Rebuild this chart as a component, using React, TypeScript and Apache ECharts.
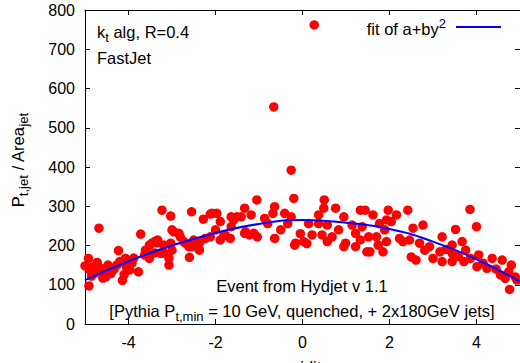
import React, { useEffect, useRef } from 'react';
import * as echarts from 'echarts';

const xTickValues = [-4, -2, 0, 2, 4];
const yMin = 0;
const yMax = 800;
const yInterval = 100;

const jetPoints: [number, number][] = [
  [-5.0, 148], [-4.92, 167], [-4.91, 97], [-4.89, 138], [-4.82, 146], [-4.78, 129],
  [-4.68, 244], [-4.68, 143], [-4.63, 142], [-4.59, 117], [-4.56, 130], [-4.47, 150],
  [-4.45, 143], [-4.4, 129], [-4.27, 150], [-4.23, 187], [-4.2, 159], [-4.14, 111],
  [-4.07, 167], [-4.05, 146], [-3.97, 138], [-3.92, 155], [-3.77, 133], [-3.72, 229],
  [-3.63, 176], [-3.61, 188], [-3.53, 176], [-3.52, 201], [-3.52, 167], [-3.46, 206],
  [-3.4, 210], [-3.4, 181], [-3.35, 207], [-3.33, 214], [-4.85, 122], [-4.72, 157],
  [-4.52, 120], [-4.33, 140], [-4.1, 126], [-3.88, 168],
  [-3.26, 180], [-3.23, 290], [-3.19, 181], [-3.19, 201], [-3.07, 167], [-3.07, 150],
  [-3.03, 275], [-3.03, 206], [-3.0, 240], [-3.0, 188], [-2.96, 235], [-2.84, 231],
  [-2.81, 222], [-2.73, 210], [-2.69, 206], [-2.61, 197], [-2.6, 170], [-2.55, 286],
  [-2.55, 197], [-2.5, 214], [-2.46, 210], [-2.39, 193], [-2.37, 188], [-2.35, 210],
  [-2.28, 267], [-2.23, 218], [-2.12, 280], [-2.12, 222], [-2.08, 282], [-2.0, 240],
  [-1.97, 282], [-1.89, 261], [-1.89, 214], [-1.81, 227], [-1.77, 226], [-1.66, 218],
  [-1.64, 273], [-1.64, 248], [-1.58, 265], [-1.51, 273], [-1.41, 273], [-1.33, 295],
  [-1.33, 231], [-1.31, 235], [-1.22, 227], [-1.18, 278], [-1.12, 231], [-1.05, 316],
  [-1.04, 222],
  [-0.87, 269], [-0.8, 256], [-0.68, 282], [-0.64, 299], [-0.64, 218], [-0.66, 553],
  [-0.5, 240], [-0.41, 282], [-0.34, 256], [-0.26, 273], [-0.26, 392], [-0.2, 320],
  [-0.18, 201], [-0.16, 206], [-0.05, 230], [0.03, 210], [0.1, 205], [0.14, 256],
  [0.22, 227], [0.27, 762], [0.37, 278], [0.37, 256], [0.5, 316], [0.49, 295],
  [0.45, 227], [0.57, 252], [0.57, 210], [0.68, 222], [0.76, 295], [0.83, 240],
  [0.95, 273], [0.95, 197], [0.99, 206],
  [1.14, 252], [1.22, 231], [1.22, 197], [1.33, 290], [1.33, 214], [1.37, 248],
  [1.44, 290], [1.48, 184], [1.52, 222], [1.55, 184], [1.62, 278], [1.7, 222],
  [1.74, 201], [1.77, 256], [1.85, 184], [1.89, 240], [1.93, 265], [1.93, 210],
  [1.97, 290], [2.04, 261], [2.16, 278], [2.23, 218], [2.31, 210], [2.42, 290],
  [2.46, 214], [2.5, 171], [2.54, 244], [2.61, 163], [2.69, 206], [2.77, 252],
  [2.81, 188], [2.92, 197],
  [3.0, 167], [3.16, 184], [3.21, 222], [3.21, 159], [3.44, 201], [3.44, 180],
  [3.44, 159], [3.52, 241], [3.67, 210], [3.71, 159], [3.75, 188], [3.85, 292],
  [3.86, 167], [4.0, 248], [4.01, 146], [4.05, 176], [4.24, 142], [4.36, 167],
  [4.55, 125], [4.59, 163], [4.66, 116], [4.74, 133], [4.76, 88], [4.89, 120],
  [4.93, 112], [3.3, 190], [3.58, 172], [4.15, 155], [4.45, 140], [4.8, 150],
];

const fitX = [-5, -4, -3, -2, -1, 0, 1, 2, 3, 4, 5];
const fitY = [112, 160, 200, 232, 255, 265, 258, 242, 210, 165, 108];

const FONT = "'Liberation Sans', Arial, Helvetica, sans-serif";

const rich = {
  m: { fontSize: 16.5, fontFamily: FONT, fill: '#000', color: '#000' },
  s: { fontSize: 13, fontFamily: FONT, fill: '#000', color: '#000', padding: [11, 0, 0, 0] },
  p: { fontSize: 13, fontFamily: FONT, fill: '#000', color: '#000', padding: [0, 0, 11, 0] },
};

function txt(x: number, y: number, text: string, align: string) {
  return {
    type: 'text',
    x,
    y,
    style: {
      text,
      rich,
      fontSize: 16.5,
      fontFamily: FONT,
      fill: '#000',
      align,
      textAlign: align,
      verticalAlign: 'middle',
      textVerticalAlign: 'middle',
    },
  };
}

export default function App() {
  const ref = useRef<HTMLDivElement>(null);
  useEffect(() => {
    if (!ref.current) return;
    const chart = echarts.init(ref.current, undefined, { renderer: 'svg' });
    const axisLine = { show: true, onZero: false, lineStyle: { color: '#000', width: 1 } };
    const tick = { show: true, inside: true, length: 5, lineStyle: { color: '#000', width: 1 } };
    chart.setOption({
      animation: false,
      backgroundColor: '#fff',
      grid: { left: 85, right: -1, top: 10, bottom: 39, containLabel: false },
      xAxis: [
        {
          type: 'value', min: -5, max: 5, position: 'bottom',
          axisLine, splitLine: { show: false },
          axisTick: { ...tick, customValues: xTickValues },
          axisLabel: { customValues: xTickValues, margin: 10, color: '#000', fontSize: 16, fontFamily: FONT },
        },
        {
          type: 'value', min: -5, max: 5, position: 'top',
          axisLine, splitLine: { show: false },
          axisTick: { ...tick, customValues: xTickValues },
          axisLabel: { show: false, customValues: xTickValues },
        },
      ],
      yAxis: [
        {
          type: 'value', min: yMin, max: yMax, interval: yInterval, position: 'left',
          axisLine, splitLine: { show: false }, axisTick: tick,
          axisLabel: { margin: 10, color: '#000', fontSize: 16, fontFamily: FONT },
        },
        {
          type: 'value', min: yMin, max: yMax, interval: yInterval, position: 'right',
          axisLine, splitLine: { show: false }, axisTick: tick,
          axisLabel: { show: false },
        },
      ],
      series: [
        {
          type: 'scatter', xAxisIndex: 0, yAxisIndex: 0, data: jetPoints,
          symbol: 'circle', symbolSize: 9.5, clip: false,
          itemStyle: { color: '#ff0000', opacity: 1 },
        },
        {
          type: 'line', xAxisIndex: 0, yAxisIndex: 0,
          data: fitX.map((x, i) => [x, fitY[i]]),
          smooth: true, showSymbol: false, symbol: 'none',
          lineStyle: { color: '#0000ff', width: 2 },
        },
      ],
      graphic: [
        txt(97, 32, '{m|k}{s|t}{m| alg, R=0.4}', 'left'),
        txt(97, 58, '{m|FastJet}', 'left'),
        txt(446, 29, '{m|fit of a+by}{p|2}', 'right'),
        { type: 'line', shape: { x1: 456, y1: 27, x2: 501, y2: 27 }, style: { stroke: '#0000ff', lineWidth: 2 } },
        txt(302, 286, '{m|Event from Hydjet v 1.1}', 'center'),
        txt(302, 311, '{m|[Pythia P}{s|t,min}{m| = 10 GeV, quenched, + 2x180GeV jets]}', 'center'),
        txt(303, 367, '{m|rapidity}', 'center'),
        {
          type: 'group', x: 18, y: 160, rotation: Math.PI / 2,
          children: [txt(0, 0, '{m|P}{s|t,jet}{m| / Area}{s|jet}', 'center')],
        },
      ],
    });
    return () => chart.dispose();
  }, []);
  return <div ref={ref} style={{ position: 'fixed', left: 0, top: 0, width: 520, height: 363 }} />;
}
